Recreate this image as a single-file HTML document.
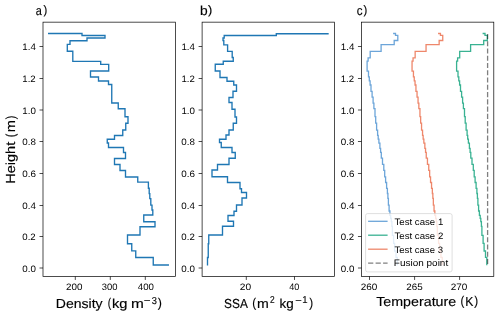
<!DOCTYPE html>
<html><head><meta charset="utf-8"><style>
html,body{margin:0;padding:0;background:#fff;width:500px;height:316px;overflow:hidden;}
body{position:relative;}
svg{display:block;text-rendering:geometricPrecision;}
.L{position:absolute;left:0;top:0;width:500px;height:316px;will-change:transform;}
</style></head><body>
<div class="L">
<svg width="500" height="316" viewBox="0 0 500 316" font-family='"Liberation Sans", sans-serif'>
<rect width="500" height="316" fill="#fff"/>
<polyline points="48.70,33.50 82.00,33.50 82.00,35.50 105.00,35.50 105.00,38.00 87.00,38.00 87.00,40.75 70.00,40.75 70.00,44.30 67.30,44.30 67.30,51.20 72.80,51.20 72.80,61.30 100.70,61.30 100.70,64.30 108.70,64.30 108.70,71.00 90.50,71.00 90.50,77.00 98.50,77.00 98.50,81.00 108.50,81.00 108.50,84.50 111.75,84.50 111.75,103.00 118.25,103.00 118.25,108.75 125.00,108.75 125.00,116.75 128.00,116.75 128.00,123.25 125.75,123.25 125.75,130.00 122.75,130.00 122.75,135.50 114.50,135.50 114.50,139.25 107.25,139.25 107.25,143.00 108.50,143.00 108.50,147.50 123.50,147.50 123.50,152.50 125.50,152.50 125.50,158.50 114.50,158.50 114.50,164.50 120.00,164.50 120.00,170.50 125.50,170.50 125.50,177.00 137.75,177.00 137.75,182.10 148.40,182.10 148.40,188.20 149.20,188.20 149.20,193.60 149.80,193.60 149.80,198.60 150.80,198.60 150.80,205.10 152.00,205.10 152.00,210.00 152.80,210.00 152.80,215.00 143.75,215.00 143.75,221.75 155.00,221.75 155.00,226.75 140.00,226.75 140.00,235.00 127.50,235.00 127.50,243.75 131.75,243.75 131.75,250.80 135.75,250.80 135.75,257.50 153.25,257.50 153.25,265.00 168.30,265.00" fill="none" stroke="#1f77b4" stroke-width="1.35" stroke-linecap="square"/>
<polyline points="328.00,33.70 276.30,33.70 276.30,35.50 224.20,35.50 224.20,38.00 223.00,38.00 223.00,40.50 223.80,40.50 223.80,44.80 227.60,44.80 227.60,51.30 232.20,51.30 232.20,57.50 233.25,57.50 233.25,61.25 223.25,61.25 223.25,64.25 215.25,64.25 215.25,71.00 220.00,71.00 220.00,77.50 227.00,77.50 227.00,81.25 233.75,81.25 233.75,85.00 236.50,85.00 236.50,91.25 233.00,91.25 233.00,97.50 229.00,97.50 229.00,102.50 232.00,102.50 232.00,109.25 235.00,109.25 235.00,117.00 236.50,117.00 236.50,123.25 233.25,123.25 233.25,130.00 229.00,130.00 229.00,135.00 226.00,135.00 226.00,139.25 219.50,139.25 219.50,142.50 221.25,142.50 221.25,147.50 232.00,147.50 232.00,152.50 235.25,152.50 235.25,158.25 229.00,158.25 229.00,164.50 217.50,164.50 217.50,170.00 212.00,170.00 212.00,176.75 227.50,176.75 227.50,182.50 240.00,182.50 240.00,188.75 241.50,188.75 241.50,192.50 246.50,192.50 246.50,198.00 242.00,198.00 242.00,205.00 236.50,205.00 236.50,211.25 234.00,211.25 234.00,215.50 228.00,215.50 228.00,221.25 233.50,221.25 233.50,226.25 222.50,226.25 222.50,235.00 208.75,235.00 208.75,243.75 208.25,243.75 208.25,257.50 207.50,257.50 207.50,264.90" fill="none" stroke="#1f77b4" stroke-width="1.35" stroke-linecap="square"/>
<polyline points="393.10,33.50 395.50,33.50 395.50,35.30 397.80,35.30 397.80,40.50 394.20,40.50 394.20,44.70 381.10,44.70 381.10,51.40 370.20,51.40 370.20,57.90 368.10,57.90 368.10,61.20 367.10,61.20 367.10,71.10 368.50,71.10 368.50,76.90 369.30,76.90 369.30,80.80 370.10,80.80 370.10,85.00 371.00,85.00 371.00,91.30 372.10,91.30 372.10,97.10 373.10,97.10 373.10,103.10 373.90,103.10 373.90,108.60 375.00,108.60 375.00,116.70 375.70,116.70 375.70,123.10 376.60,123.10 376.60,130.10 377.60,130.10 377.60,135.40 378.20,135.40 378.20,139.20 378.90,139.20 378.90,143.20 379.90,143.20 379.90,148.30 380.60,148.30 380.60,152.40 381.30,152.40 381.30,158.10 382.50,158.10 382.50,164.30 383.80,164.30 383.80,170.30 384.70,170.30 384.70,176.90 385.60,176.90 385.60,182.50 386.60,182.50 386.60,188.30 387.40,188.30 387.40,193.50 387.90,193.50 387.90,198.40 388.40,198.40 388.40,205.20 389.10,205.20 389.10,211.00 389.90,211.00 389.90,215.30 390.70,215.30 390.70,218.40 391.30,218.40 391.30,221.70 391.90,221.70 391.90,226.40 392.40,226.40 392.40,235.40 393.60,235.40 393.60,243.40 394.60,243.40 394.60,251.00 396.00,251.00 396.00,257.30 397.30,257.30 397.30,265.30" fill="none" stroke="#6ca5d9" stroke-width="1.3"/>
<polyline points="482.60,33.50 485.00,33.50 485.00,35.30 487.30,35.30 487.30,40.50 483.70,40.50 483.70,44.70 470.60,44.70 470.60,51.40 459.70,51.40 459.70,57.90 457.60,57.90 457.60,61.20 456.60,61.20 456.60,71.10 458.00,71.10 458.00,76.90 458.80,76.90 458.80,80.80 459.60,80.80 459.60,85.00 460.50,85.00 460.50,91.30 461.60,91.30 461.60,97.10 462.60,97.10 462.60,103.10 463.40,103.10 463.40,108.60 464.50,108.60 464.50,116.70 465.20,116.70 465.20,123.10 466.10,123.10 466.10,130.10 467.10,130.10 467.10,135.40 467.70,135.40 467.70,139.20 468.40,139.20 468.40,143.20 469.40,143.20 469.40,148.30 470.10,148.30 470.10,152.40 470.80,152.40 470.80,158.10 472.00,158.10 472.00,164.30 473.30,164.30 473.30,170.30 474.20,170.30 474.20,176.90 475.10,176.90 475.10,182.50 476.10,182.50 476.10,188.30 476.90,188.30 476.90,193.50 477.40,193.50 477.40,198.40 477.90,198.40 477.90,205.20 478.60,205.20 478.60,211.00 479.40,211.00 479.40,215.30 480.20,215.30 480.20,218.40 480.80,218.40 480.80,221.70 481.40,221.70 481.40,226.40 481.90,226.40 481.90,235.40 483.10,235.40 483.10,243.40 484.10,243.40 484.10,251.00 485.50,251.00 485.50,257.30 486.80,257.30 486.80,265.30" fill="none" stroke="#39b292" stroke-width="1.3"/>
<polyline points="438.05,33.50 440.45,33.50 440.45,35.30 442.75,35.30 442.75,40.50 439.15,40.50 439.15,44.70 426.05,44.70 426.05,51.40 415.15,51.40 415.15,57.90 413.05,57.90 413.05,61.20 412.05,61.20 412.05,71.10 413.45,71.10 413.45,76.90 414.25,76.90 414.25,80.80 415.05,80.80 415.05,85.00 415.95,85.00 415.95,91.30 417.05,91.30 417.05,97.10 418.05,97.10 418.05,103.10 418.85,103.10 418.85,108.60 419.95,108.60 419.95,116.70 420.65,116.70 420.65,123.10 421.55,123.10 421.55,130.10 422.55,130.10 422.55,135.40 423.15,135.40 423.15,139.20 423.85,139.20 423.85,143.20 424.85,143.20 424.85,148.30 425.55,148.30 425.55,152.40 426.25,152.40 426.25,158.10 427.45,158.10 427.45,164.30 428.75,164.30 428.75,170.30 429.65,170.30 429.65,176.90 430.55,176.90 430.55,182.50 431.55,182.50 431.55,188.30 432.35,188.30 432.35,193.50 432.85,193.50 432.85,198.40 433.35,198.40 433.35,205.20 434.05,205.20 434.05,211.00 434.85,211.00 434.85,215.30 435.65,215.30 435.65,218.40 436.25,218.40 436.25,221.70 436.85,221.70 436.85,226.40 437.35,226.40 437.35,235.40 438.55,235.40 438.55,243.40 439.55,243.40 439.55,251.00 440.95,251.00 440.95,257.30 442.25,257.30 442.25,265.30" fill="none" stroke="#ee876b" stroke-width="1.3"/>
<line x1="487.6" y1="33.95" x2="487.6" y2="265.3" stroke="#000" stroke-opacity="0.5" stroke-width="1.3" stroke-dasharray="5.1 2.16"/>
<rect x="365.6" y="213.6" width="86.50" height="58.30" rx="2" ry="2" fill="#fff" fill-opacity="0.8" stroke="#cccccc" stroke-opacity="0.8" stroke-width="0.8"/>
<line x1="368.1" y1="221.3" x2="387.6" y2="221.3" stroke="#6ca5d9" stroke-width="1.3"/>

<line x1="368.1" y1="235.2" x2="387.6" y2="235.2" stroke="#39b292" stroke-width="1.3"/>

<line x1="368.1" y1="249.2" x2="387.6" y2="249.2" stroke="#ee876b" stroke-width="1.3"/>

<line x1="368.1" y1="263.2" x2="387.6" y2="263.2" stroke="#000" stroke-width="1.3" stroke-dasharray="5.2 2.3" stroke-opacity="0.5"/>

<rect x="43.0" y="22.15" width="132.50" height="254.30" fill="none" stroke="#000" stroke-width="0.7"/>
<line x1="39.5" y1="268.00" x2="43.0" y2="268.00" stroke="#000" stroke-width="0.7"/>

<line x1="39.5" y1="236.50" x2="43.0" y2="236.50" stroke="#000" stroke-width="0.7"/>

<line x1="39.5" y1="205.50" x2="43.0" y2="205.50" stroke="#000" stroke-width="0.7"/>

<line x1="39.5" y1="173.50" x2="43.0" y2="173.50" stroke="#000" stroke-width="0.7"/>

<line x1="39.5" y1="141.50" x2="43.0" y2="141.50" stroke="#000" stroke-width="0.7"/>

<line x1="39.5" y1="110.00" x2="43.0" y2="110.00" stroke="#000" stroke-width="0.7"/>

<line x1="39.5" y1="78.50" x2="43.0" y2="78.50" stroke="#000" stroke-width="0.7"/>

<line x1="39.5" y1="46.50" x2="43.0" y2="46.50" stroke="#000" stroke-width="0.7"/>

<rect x="202.1" y="22.15" width="132.50" height="254.30" fill="none" stroke="#000" stroke-width="0.7"/>
<line x1="198.6" y1="268.00" x2="202.1" y2="268.00" stroke="#000" stroke-width="0.7"/>

<line x1="198.6" y1="236.50" x2="202.1" y2="236.50" stroke="#000" stroke-width="0.7"/>

<line x1="198.6" y1="205.50" x2="202.1" y2="205.50" stroke="#000" stroke-width="0.7"/>

<line x1="198.6" y1="173.50" x2="202.1" y2="173.50" stroke="#000" stroke-width="0.7"/>

<line x1="198.6" y1="141.50" x2="202.1" y2="141.50" stroke="#000" stroke-width="0.7"/>

<line x1="198.6" y1="110.00" x2="202.1" y2="110.00" stroke="#000" stroke-width="0.7"/>

<line x1="198.6" y1="78.50" x2="202.1" y2="78.50" stroke="#000" stroke-width="0.7"/>

<line x1="198.6" y1="46.50" x2="202.1" y2="46.50" stroke="#000" stroke-width="0.7"/>

<rect x="361.45" y="22.15" width="132.35" height="254.30" fill="none" stroke="#000" stroke-width="0.7"/>
<line x1="357.95" y1="268.00" x2="361.45" y2="268.00" stroke="#000" stroke-width="0.7"/>

<line x1="357.95" y1="236.50" x2="361.45" y2="236.50" stroke="#000" stroke-width="0.7"/>

<line x1="357.95" y1="205.50" x2="361.45" y2="205.50" stroke="#000" stroke-width="0.7"/>

<line x1="357.95" y1="173.50" x2="361.45" y2="173.50" stroke="#000" stroke-width="0.7"/>

<line x1="357.95" y1="141.50" x2="361.45" y2="141.50" stroke="#000" stroke-width="0.7"/>

<line x1="357.95" y1="110.00" x2="361.45" y2="110.00" stroke="#000" stroke-width="0.7"/>

<line x1="357.95" y1="78.50" x2="361.45" y2="78.50" stroke="#000" stroke-width="0.7"/>

<line x1="357.95" y1="46.50" x2="361.45" y2="46.50" stroke="#000" stroke-width="0.7"/>

<line x1="75.3" y1="276.45" x2="75.3" y2="279.95" stroke="#000" stroke-width="0.7"/>

<line x1="110.3" y1="276.45" x2="110.3" y2="279.95" stroke="#000" stroke-width="0.7"/>

<line x1="145.3" y1="276.45" x2="145.3" y2="279.95" stroke="#000" stroke-width="0.7"/>

<line x1="246.3" y1="276.45" x2="246.3" y2="279.95" stroke="#000" stroke-width="0.7"/>

<line x1="294.5" y1="276.45" x2="294.5" y2="279.95" stroke="#000" stroke-width="0.7"/>

<line x1="369.5" y1="276.45" x2="369.5" y2="279.95" stroke="#000" stroke-width="0.7"/>

<line x1="414.6" y1="276.45" x2="414.6" y2="279.95" stroke="#000" stroke-width="0.7"/>

<line x1="459.6" y1="276.45" x2="459.6" y2="279.95" stroke="#000" stroke-width="0.7"/>




















<text transform="translate(14.7,183.79) rotate(-90)" font-size="13.1" textLength="42.00" lengthAdjust="spacingAndGlyphs" fill="#000" stroke="#000" stroke-width="0.15">Height</text>
<text transform="translate(14.7,137.18) rotate(-90)" font-size="13.1" textLength="3.64" lengthAdjust="spacingAndGlyphs" fill="#000" stroke="#000" stroke-width="0.15">(</text>
<text transform="translate(14.7,132.37) rotate(-90)" font-size="13.1" textLength="12.13" lengthAdjust="spacingAndGlyphs" fill="#000" stroke="#000" stroke-width="0.15">m</text>
<text transform="translate(14.7,119.37) rotate(-90)" font-size="13.1" textLength="3.77" lengthAdjust="spacingAndGlyphs" fill="#000" stroke="#000" stroke-width="0.15">)</text>






</svg>
</div>
<div class="L" style=""><svg width="500" height="316" viewBox="0 0 500 316" font-family='"Liberation Sans", sans-serif'>
<text x="394.49" y="225" font-size="9.3" textLength="48.77" lengthAdjust="spacingAndGlyphs" fill="#000">Test case 1</text>
<text x="394.49" y="239" font-size="9.3" textLength="48.79" lengthAdjust="spacingAndGlyphs" fill="#000">Test case 2</text>
<text x="394.49" y="253" font-size="9.3" textLength="48.52" lengthAdjust="spacingAndGlyphs" fill="#000">Test case 3</text>
<text x="393.88" y="266" font-size="9.3" textLength="54.29" lengthAdjust="spacingAndGlyphs" fill="#000">Fusion point</text>
<text x="22.29" y="272" font-size="9.3" textLength="13.59" lengthAdjust="spacingAndGlyphs" fill="#000">0.0</text>
<text x="22.29" y="240" font-size="9.3" textLength="13.39" lengthAdjust="spacingAndGlyphs" fill="#000">0.2</text>
<text x="22.29" y="209" font-size="9.3" textLength="13.59" lengthAdjust="spacingAndGlyphs" fill="#000">0.4</text>
<text x="22.29" y="177" font-size="9.3" textLength="13.68" lengthAdjust="spacingAndGlyphs" fill="#000">0.6</text>
<text x="22.29" y="145" font-size="9.3" textLength="13.62" lengthAdjust="spacingAndGlyphs" fill="#000">0.8</text>
<text x="22.31" y="114" font-size="9.3" textLength="13.57" lengthAdjust="spacingAndGlyphs" fill="#000">1.0</text>
<text x="22.32" y="82" font-size="9.3" textLength="13.36" lengthAdjust="spacingAndGlyphs" fill="#000">1.2</text>
<text x="22.31" y="50" font-size="9.3" textLength="13.56" lengthAdjust="spacingAndGlyphs" fill="#000">1.4</text>
<text x="181.39" y="272" font-size="9.3" textLength="13.59" lengthAdjust="spacingAndGlyphs" fill="#000">0.0</text>
<text x="181.39" y="240" font-size="9.3" textLength="13.39" lengthAdjust="spacingAndGlyphs" fill="#000">0.2</text>
<text x="181.39" y="209" font-size="9.3" textLength="13.59" lengthAdjust="spacingAndGlyphs" fill="#000">0.4</text>
<text x="181.39" y="177" font-size="9.3" textLength="13.68" lengthAdjust="spacingAndGlyphs" fill="#000">0.6</text>
<text x="181.39" y="145" font-size="9.3" textLength="13.62" lengthAdjust="spacingAndGlyphs" fill="#000">0.8</text>
<text x="181.41" y="114" font-size="9.3" textLength="13.57" lengthAdjust="spacingAndGlyphs" fill="#000">1.0</text>
<text x="181.42" y="82" font-size="9.3" textLength="13.36" lengthAdjust="spacingAndGlyphs" fill="#000">1.2</text>
<text x="181.41" y="50" font-size="9.3" textLength="13.56" lengthAdjust="spacingAndGlyphs" fill="#000">1.4</text>
<text x="340.74" y="272" font-size="9.3" textLength="13.59" lengthAdjust="spacingAndGlyphs" fill="#000">0.0</text>
<text x="340.74" y="240" font-size="9.3" textLength="13.39" lengthAdjust="spacingAndGlyphs" fill="#000">0.2</text>
<text x="340.74" y="209" font-size="9.3" textLength="13.59" lengthAdjust="spacingAndGlyphs" fill="#000">0.4</text>
<text x="340.74" y="177" font-size="9.3" textLength="13.68" lengthAdjust="spacingAndGlyphs" fill="#000">0.6</text>
<text x="340.74" y="145" font-size="9.3" textLength="13.62" lengthAdjust="spacingAndGlyphs" fill="#000">0.8</text>
<text x="340.76" y="114" font-size="9.3" textLength="13.57" lengthAdjust="spacingAndGlyphs" fill="#000">1.0</text>
<text x="340.77" y="82" font-size="9.3" textLength="13.36" lengthAdjust="spacingAndGlyphs" fill="#000">1.2</text>
<text x="340.76" y="50" font-size="9.3" textLength="13.56" lengthAdjust="spacingAndGlyphs" fill="#000">1.4</text>
<text x="66.01" y="290" font-size="9.3" textLength="16.38" lengthAdjust="spacingAndGlyphs" fill="#000">200</text>
<text x="101.74" y="290" font-size="9.3" textLength="15.73" lengthAdjust="spacingAndGlyphs" fill="#000">300</text>
<text x="137.78" y="290" font-size="9.3" textLength="16.10" lengthAdjust="spacingAndGlyphs" fill="#000">400</text>
<text x="239.79" y="290" font-size="9.3" textLength="11.31" lengthAdjust="spacingAndGlyphs" fill="#000">20</text>
<text x="289.29" y="290" font-size="9.3" textLength="10.06" lengthAdjust="spacingAndGlyphs" fill="#000">40</text>
<text x="360.80" y="290" font-size="9.3" textLength="16.59" lengthAdjust="spacingAndGlyphs" fill="#000">260</text>
<text x="406.31" y="290" font-size="9.3" textLength="16.41" lengthAdjust="spacingAndGlyphs" fill="#000">265</text>
<text x="450.80" y="290" font-size="9.3" textLength="16.59" lengthAdjust="spacingAndGlyphs" fill="#000">270</text>
<text x="55.85" y="308" font-size="13.1" textLength="46.78" lengthAdjust="spacingAndGlyphs" fill="#000" stroke="#000" stroke-width="0.15">Density</text>
<text x="107.67" y="307" font-size="12.8" textLength="3.39" lengthAdjust="spacingAndGlyphs" fill="#000" stroke="#000" stroke-width="0.15">(</text>
<text x="112.01" y="308" font-size="13.1" textLength="15.54" lengthAdjust="spacingAndGlyphs" fill="#000" stroke="#000" stroke-width="0.15">kg</text>
<text x="131.08" y="308" font-size="13.1" textLength="12.84" lengthAdjust="spacingAndGlyphs" fill="#000" stroke="#000" stroke-width="0.15">m</text>
<text x="143.83" y="304" font-size="10.0" textLength="6.73" lengthAdjust="spacingAndGlyphs" fill="#000" stroke="#000" stroke-width="0.15">−</text>
<text x="151.85" y="304" font-size="10.0" textLength="5.16" lengthAdjust="spacingAndGlyphs" fill="#000" stroke="#000" stroke-width="0.15">3</text>
<text x="157.83" y="307" font-size="12.8" textLength="4.14" lengthAdjust="spacingAndGlyphs" fill="#000" stroke="#000" stroke-width="0.15">)</text>
<text x="224.06" y="308" font-size="13.1" textLength="23.76" lengthAdjust="spacingAndGlyphs" fill="#000" stroke="#000" stroke-width="0.15">SSA</text>
<text x="252.17" y="307" font-size="12.8" textLength="3.89" lengthAdjust="spacingAndGlyphs" fill="#000" stroke="#000" stroke-width="0.15">(</text>
<text x="256.96" y="308" font-size="13.1" textLength="11.77" lengthAdjust="spacingAndGlyphs" fill="#000" stroke="#000" stroke-width="0.15">m</text>
<text x="269.98" y="303" font-size="10.0" textLength="4.64" lengthAdjust="spacingAndGlyphs" fill="#000" stroke="#000" stroke-width="0.15">2</text>
<text x="279.60" y="308" font-size="13.1" textLength="14.17" lengthAdjust="spacingAndGlyphs" fill="#000" stroke="#000" stroke-width="0.15">kg</text>
<text x="295.35" y="304" font-size="10.0" textLength="6.49" lengthAdjust="spacingAndGlyphs" fill="#000" stroke="#000" stroke-width="0.15">−</text>
<text x="302.28" y="303" font-size="10.0" textLength="5.29" lengthAdjust="spacingAndGlyphs" fill="#000" stroke="#000" stroke-width="0.15">1</text>
<text x="309.33" y="307" font-size="12.8" textLength="3.89" lengthAdjust="spacingAndGlyphs" fill="#000" stroke="#000" stroke-width="0.15">)</text>
<text x="376.19" y="306" font-size="13.1" textLength="80.04" lengthAdjust="spacingAndGlyphs" fill="#000" stroke="#000" stroke-width="0.15">Temperature</text>
<text x="460.60" y="305" font-size="12.8" textLength="3.77" lengthAdjust="spacingAndGlyphs" fill="#000" stroke="#000" stroke-width="0.15">(</text>
<text x="465.30" y="306" font-size="13.1" textLength="8.14" lengthAdjust="spacingAndGlyphs" fill="#000" stroke="#000" stroke-width="0.15">K</text>
<text x="474.13" y="305" font-size="12.8" textLength="3.89" lengthAdjust="spacingAndGlyphs" fill="#000" stroke="#000" stroke-width="0.15">)</text>
<text x="35.74" y="15" font-size="13.1" textLength="6.06" lengthAdjust="spacingAndGlyphs" fill="#000" stroke="#000" stroke-width="0.15">a</text>
<text x="43.43" y="14" font-size="12.2" textLength="3.77" lengthAdjust="spacingAndGlyphs" fill="#000" stroke="#000" stroke-width="0.15">)</text>
<text x="200.01" y="15" font-size="13.1" textLength="7.67" lengthAdjust="spacingAndGlyphs" fill="#000" stroke="#000" stroke-width="0.15">b</text>
<text x="208.12" y="14" font-size="12.2" textLength="4.27" lengthAdjust="spacingAndGlyphs" fill="#000" stroke="#000" stroke-width="0.15">)</text>
<text x="356.71" y="15" font-size="13.1" textLength="5.80" lengthAdjust="spacingAndGlyphs" fill="#000" stroke="#000" stroke-width="0.15">c</text>
<text x="363.43" y="14" font-size="12.2" textLength="3.77" lengthAdjust="spacingAndGlyphs" fill="#000" stroke="#000" stroke-width="0.15">)</text>
</svg></div>
</body></html>
